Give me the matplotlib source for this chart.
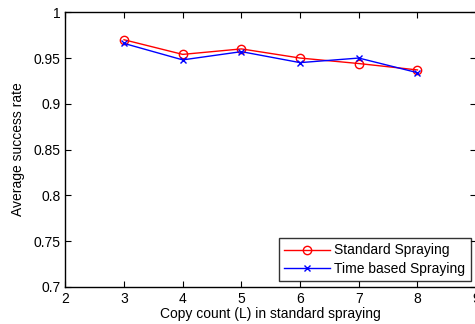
import matplotlib
matplotlib.use("Agg")
import matplotlib.pyplot as plt

copies = [3, 4, 5, 6, 7, 8]
standard = [0.970, 0.954, 0.960, 0.950, 0.944, 0.937]
time_based = [0.966, 0.948, 0.957, 0.945, 0.950, 0.934]
xticks = [2, 3, 4, 5, 6, 7, 8, 9]
yticks = [0.7, 0.75, 0.8, 0.85, 0.9, 0.95, 1.0]
ytick_labels = ["0.7", "0.75", "0.8", "0.85", "0.9", "0.95", "1"]

plt.rcParams['font.family'] = ['Liberation Sans', 'DejaVu Sans']

fig = plt.figure(figsize=(4.75, 3.24), dpi=100)
ax = fig.add_axes([0.1375, 0.115, 0.865, 0.847])
ax.plot(copies, standard, color='red', marker='o', markersize=6, markerfacecolor='none',
        linewidth=1, label='Standard Spraying')
ax.plot(copies, time_based, color='blue', marker='x', markersize=5,
        linewidth=1, label='Time based Spraying')
ax.set_xlim(2, 9)
ax.set_ylim(0.7, 1.0)
ax.set_xticks(xticks)
ax.set_yticks(yticks)
ax.set_yticklabels(ytick_labels)
ax.tick_params(direction='in', top=True, right=True, labelsize=10, length=4, width=0.8)
for s in ax.spines.values():
    s.set_linewidth(1)
ax.set_xlabel('Copy count (L) in standard spraying', fontsize=10, labelpad=1)
ax.set_ylabel('Average success rate', fontsize=10, labelpad=6)
leg = ax.legend(loc='lower right', fontsize=10, frameon=True, fancybox=False,
                edgecolor='black', borderpad=0.4, labelspacing=0.3, handlelength=3.3,
                handletextpad=0.3, borderaxespad=0.4)
leg.get_frame().set_linewidth(1)
fig.savefig('out.png', dpi=100)
